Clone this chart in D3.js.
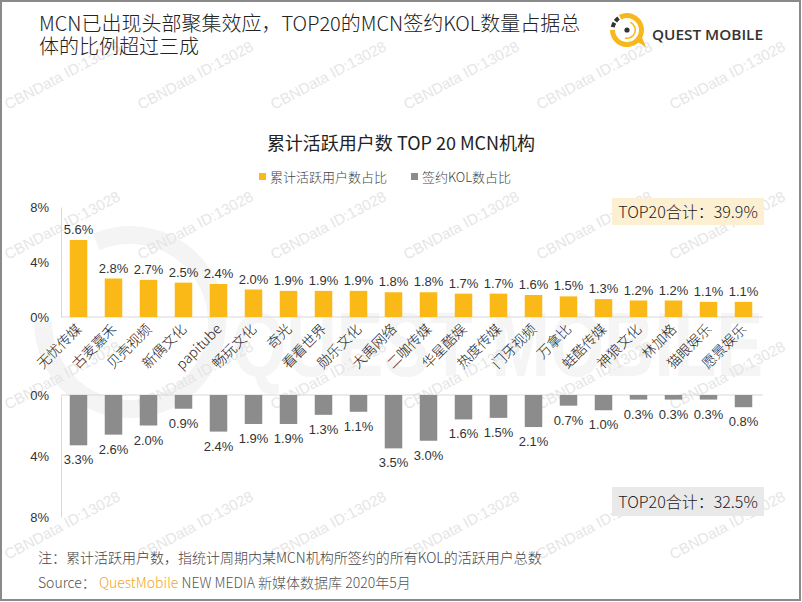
<!DOCTYPE html>
<html><head><meta charset="utf-8">
<script src="https://cdn.jsdelivr.net/npm/d3@7"></script>
<style>body{margin:0;background:#fff}svg{display:block}</style>
</head><body><div id="chart"></div>
<script>
const categories = ["无忧传媒","古麦嘉禾","贝壳视频","新偶文化","papitube","畅玩文化","奇光","看看世界","勋乐文化","大禹网络","二咖传媒","华星酷娱","热度传媒","门牙视频","万拿比","蛙酷传媒","神狼文化","林加格","猫眼娱乐","愿景娱乐"];
const activeUserShare = [5.6,2.8,2.7,2.5,2.4,2.0,1.9,1.9,1.9,1.8,1.8,1.7,1.7,1.6,1.5,1.3,1.2,1.2,1.1,1.1];
const kolShare = [3.3,2.6,2.0,0.9,2.4,1.9,1.9,1.3,1.1,3.5,3.0,1.6,1.5,2.1,0.7,1.0,0.3,0.3,0.3,0.8];
const yTicks = [0,4,8];
const seriesNames = ["累计活跃用户数占比","签约KOL数占比"];
const totals = ["TOP20合计：39.9%","TOP20合计：32.5%"];
const titleLines = ["MCN已出现头部聚集效应，TOP20的MCN签约KOL数量占据总","体的比例超过三成"];
const chartTitle = "累计活跃用户数 TOP 20 MCN机构";
const note = "注：累计活跃用户数，指统计周期内某MCN机构所签约的所有KOL的活跃用户总数";

const W = 802, H = 602;
const YELLOW = "#fbb917", GRAY = "#8c8c8c";
const CJK = "'Noto Sans CJK SC','Noto Sans',sans-serif";
const NUM = "'Liberation Sans',Arial,sans-serif";

const svg = d3.select("#chart").append("svg").attr("width", W).attr("height", H);
svg.append("rect").attr("x",1).attr("y",1).attr("width",W-3).attr("height",H-3)
  .attr("fill","#fff").attr("stroke","#8a8a8a").attr("stroke-width",2);

// faint background watermarks
const wm = svg.append("g");
const ring = d3.arc();
wm.append("path").attr("transform","translate(130,322)")
  .attr("d", ring({innerRadius:78,outerRadius:96,startAngle:-0.4,endAngle:Math.PI*1.5}))
  .attr("fill","#f4f4f4");
wm.append("text").attr("x",232).attr("y",376).attr("textLength",531).attr("lengthAdjust","spacingAndGlyphs")
  .attr("font-family",NUM).attr("font-weight","bold").attr("font-size",90).attr("fill","#f5f5f5")
  .text("QUEST MOBILE");
const rows = [110,260,410,560], cols = [8,141,274,407,540,673];
rows.forEach(ry => cols.forEach(cx => {
  wm.append("text").attr("transform",`translate(${cx},${ry}) rotate(-28)`)
    .attr("font-family",NUM).attr("font-size",15).attr("fill","#e6e6e6").text("CBNData ID:13028");
}));

// title
svg.append("g").selectAll("text").data(titleLines).join("text")
  .attr("x",39).attr("y",(d,i)=>31+i*23)
  .attr("font-family",CJK).attr("font-weight",300).attr("font-size",20).attr("fill","#222").text(d=>d);

// logo
const logo = svg.append("g").attr("transform","translate(627,30)");
const arc = d3.arc();
logo.append("path").attr("d",arc({innerRadius:12,outerRadius:17,startAngle:-0.5,endAngle:Math.PI*1.5})).attr("fill","#f6b81c");
logo.append("path").attr("d","M9,11 L19,17 L14,5 Z").attr("fill","#f6b81c");
logo.append("path").attr("d",arc({innerRadius:12.5,outerRadius:16.5,startAngle:-Math.PI/2+0.2,endAngle:-1.05})).attr("fill","#333");
logo.append("path").attr("d",arc({innerRadius:12.5,outerRadius:16.5,startAngle:-0.92,endAngle:-0.62})).attr("fill","#333");
logo.append("path").attr("d",arc({innerRadius:7.5,outerRadius:9,startAngle:0.4,endAngle:3.4})).attr("fill","#f6b81c");
logo.append("circle").attr("r",2.6).attr("fill","#333");
svg.append("text").attr("x",652).attr("y",40).attr("textLength",111).attr("lengthAdjust","spacingAndGlyphs")
  .attr("font-family","'Open Sans',sans-serif").attr("font-weight",600).attr("font-size",15).attr("fill","#333")
  .text("QUEST MOBILE");

// chart title + legend
svg.append("text").attr("x",401).attr("y",150).attr("text-anchor","middle")
  .attr("font-family",CJK).attr("font-size",18).attr("fill","#222").text(chartTitle);
const legendX = [259,411];
const lg = svg.append("g").selectAll("g").data(seriesNames).join("g")
  .attr("transform",(d,i)=>`translate(${legendX[i]},173)`);
lg.append("rect").attr("width",7).attr("height",7).attr("fill",(d,i)=>i?GRAY:YELLOW);
lg.append("text").attr("x",11).attr("y",8.5).attr("font-family",CJK).attr("font-weight",300).attr("font-size",13).attr("fill","#444").text(d=>d);

// scales
const x = d3.scaleBand().domain(categories).range([61,761]).paddingInner(0.5).paddingOuter(0.25);
const yTop = d3.scaleLinear().domain([0,8]).range([317,207]);
const yBot = d3.scaleLinear().domain([0,8]).range([395,517]);

function styleAxis(g){
  g.select(".domain").attr("stroke","#d9d9d9");
  g.selectAll("text").attr("font-family",NUM).attr("font-size",13).attr("fill","#333");
}
svg.append("g").attr("transform","translate(61,0)")
  .call(d3.axisLeft(yTop).tickValues(yTicks).tickFormat(d=>d+"%").tickSize(0).tickSizeOuter(0).tickPadding(12))
  .call(styleAxis);
svg.append("g").attr("transform","translate(61,0)")
  .call(d3.axisLeft(yBot).tickValues(yTicks).tickFormat(d=>d+"%").tickSize(0).tickSizeOuter(0).tickPadding(12))
  .call(styleAxis);

// baselines
[yTop(0), yBot(0)].forEach(yy => svg.append("line").attr("x1",61).attr("x2",763).attr("y1",yy).attr("y2",yy)
  .attr("stroke","#d9d9d9").attr("stroke-width",1));

// top bars
svg.append("g").selectAll("rect").data(activeUserShare).join("rect")
  .attr("x",(d,i)=>x(categories[i])).attr("width",x.bandwidth())
  .attr("y",d=>yTop(d)).attr("height",d=>yTop(0)-yTop(d)).attr("fill",YELLOW);
svg.append("g").selectAll("text").data(activeUserShare).join("text")
  .attr("x",(d,i)=>x(categories[i])+x.bandwidth()/2).attr("y",d=>yTop(d)-6)
  .attr("text-anchor","middle").attr("font-family",NUM).attr("font-size",13).attr("fill","#333")
  .text(d=>d.toFixed(1)+"%");

// bottom bars
svg.append("g").selectAll("rect").data(kolShare).join("rect")
  .attr("x",(d,i)=>x(categories[i])).attr("width",x.bandwidth())
  .attr("y",yBot(0)).attr("height",d=>yBot(d)-yBot(0)).attr("fill",GRAY);
svg.append("g").selectAll("text").data(kolShare).join("text")
  .attr("x",(d,i)=>x(categories[i])+x.bandwidth()/2).attr("y",d=>yBot(d)+19)
  .attr("text-anchor","middle").attr("font-family",NUM).attr("font-size",13).attr("fill","#333")
  .text(d=>d.toFixed(1)+"%");

// category labels
svg.append("g").selectAll("text").data(categories).join("text")
  .attr("transform",d=>`translate(${x(d)+x.bandwidth()/2+4},330) rotate(-45)`)
  .attr("text-anchor","end").attr("font-family",CJK).attr("font-weight",300).attr("font-size",14).attr("fill","#222").text(d=>d);

// total boxes
const boxes = [{y:198,h:27,fill:"#fcefd2"},{y:487,h:29,fill:"#e9e9e9"}];
boxes.forEach((b,i)=>{
  svg.append("rect").attr("x",612).attr("y",b.y).attr("width",152).attr("height",b.h).attr("fill",b.fill);
  svg.append("text").attr("x",688).attr("y",b.y+b.h/2+6).attr("text-anchor","middle")
    .attr("font-family",CJK).attr("font-weight",300).attr("font-size",16).attr("fill","#222").text(totals[i]);
});

// footer
svg.append("text").attr("x",38).attr("y",563).attr("font-family",CJK).attr("font-weight",300).attr("font-size",14).attr("fill","#444").text(note);
const src = svg.append("text").attr("x",38).attr("y",588).attr("font-family",CJK).attr("font-weight",300).attr("font-size",14).attr("fill","#555");
src.append("tspan").text("Source：  ");
src.append("tspan").attr("fill","#f5a623").text("QuestMobile");
src.append("tspan").text(" NEW MEDIA 新媒体数据库 2020年5月");
</script>
</body></html>
